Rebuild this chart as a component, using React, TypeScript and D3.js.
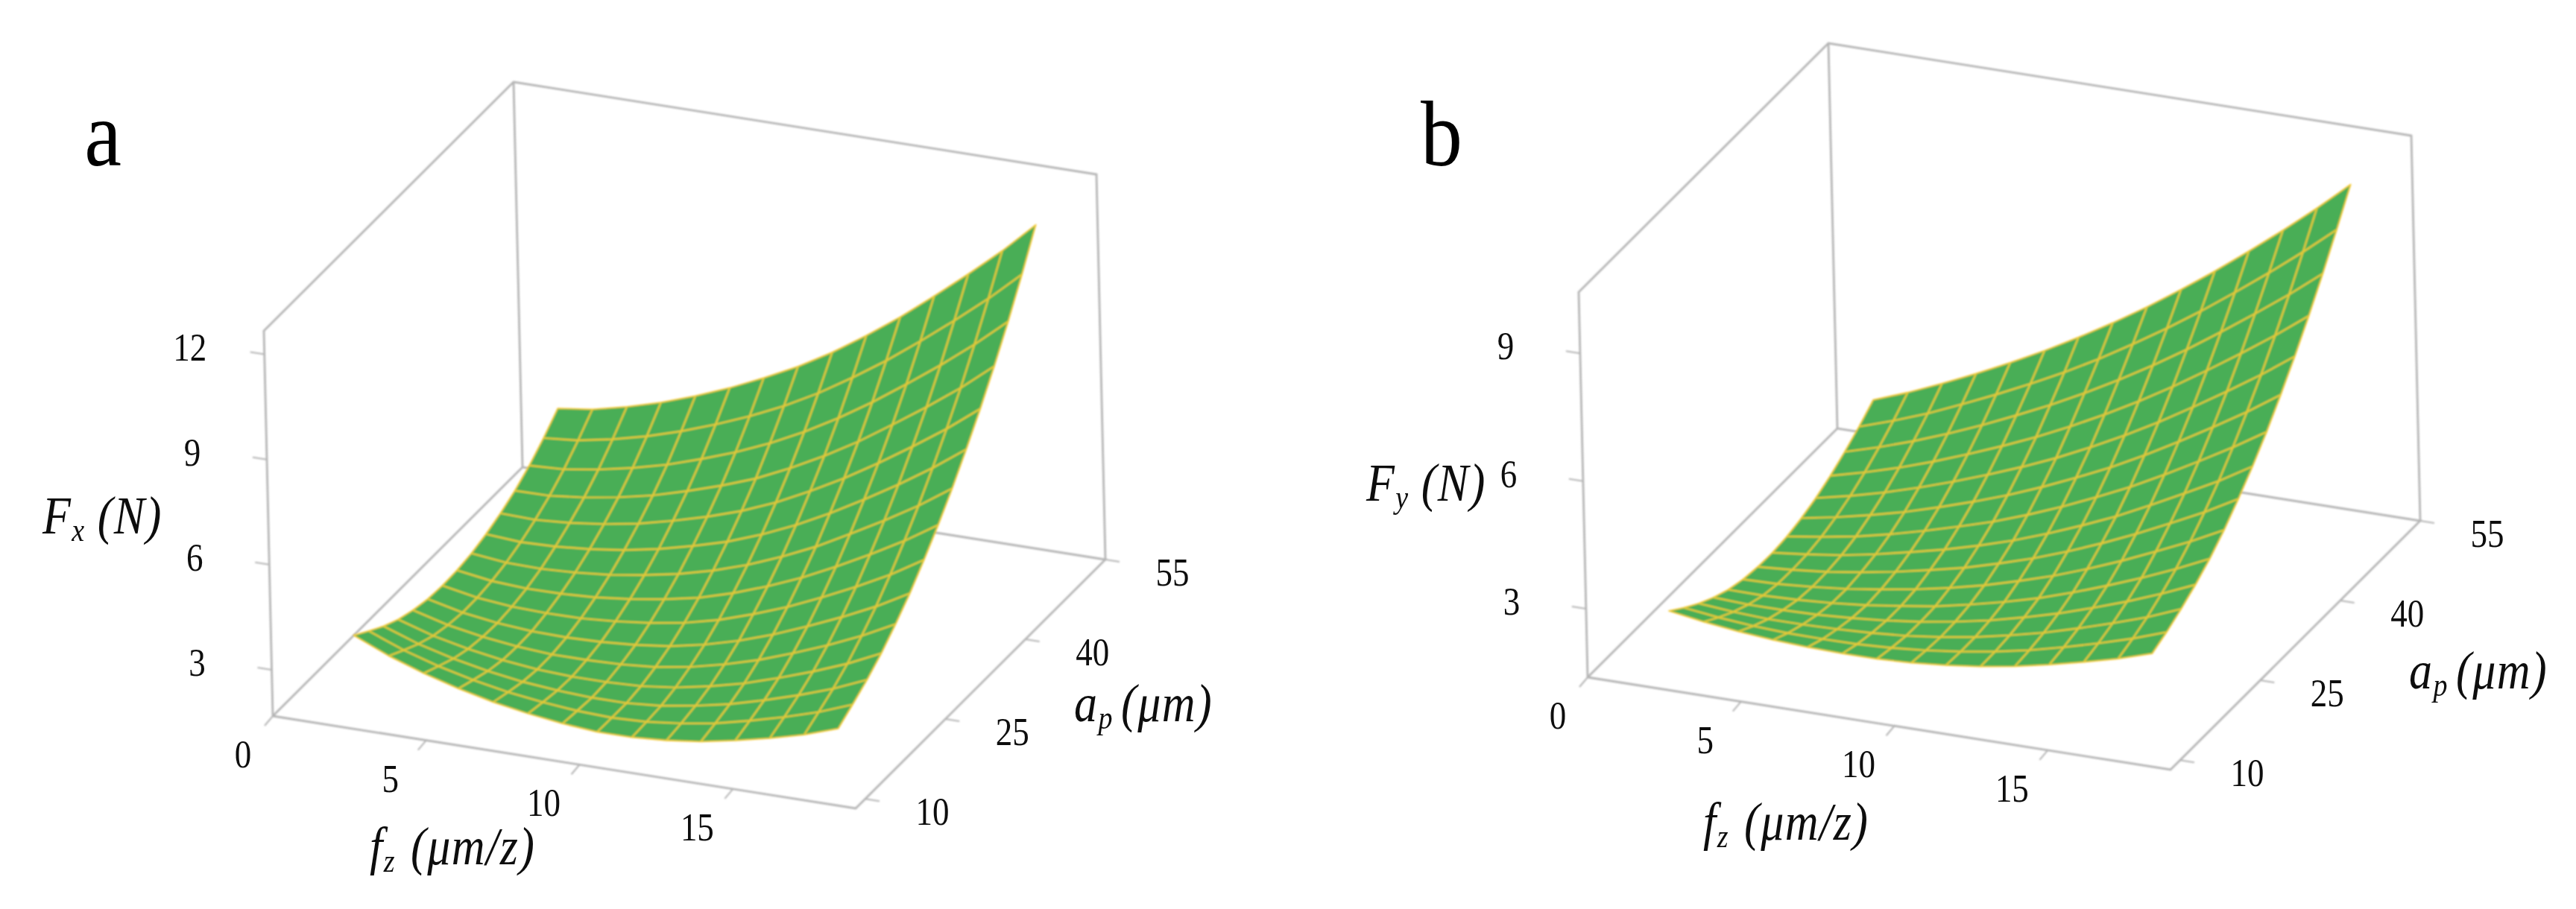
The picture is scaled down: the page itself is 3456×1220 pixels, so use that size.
import React from "react";
import * as d3 from "d3";

const width = 3456,
  height = 1220;

// floor and height directions of the box, in pixels
const ex: [number, number] = [782, 124];
const ey: [number, number] = [335, -334];
const ez: [number, number] = [-12, -517];

const fzTicks = [0, 5, 10, 15];
const apTicks = [10, 25, 40, 55];
const fxTicks = [3, 6, 9, 12];
const fyTicks = [3, 6, 9];

const fzDomain = [0, 19];
const apDomain = [8.2, 55];
const fxDomain = [1.68, 12.67];
const fyDomain = [1.39, 10.44];

// mesh positions of the surface
const fzGrid = [2.39, 3.52, 4.65, 5.77, 6.9, 8.03, 9.15, 10.28, 11.41, 12.54, 13.66, 14.79, 15.92, 17.05, 18.17];
const apGrid = [10, 12.74, 15.48, 18.21, 20.95, 23.69, 26.43, 29.17, 31.9, 34.64, 37.38, 40.12, 42.86, 45.59, 48.33];

// Fx, one row per ap, one column per fz
const fxValues = [
  [4.04, 3.61, 3.27, 2.99, 2.76, 2.59, 2.46, 2.38, 2.38, 2.45, 2.57, 2.76, 2.98, 3.24, 3.57],
  [3.75, 3.36, 3.06, 2.82, 2.63, 2.5, 2.41, 2.37, 2.41, 2.52, 2.68, 2.91, 3.17, 3.47, 3.84],
  [3.47, 3.12, 2.86, 2.66, 2.51, 2.42, 2.37, 2.37, 2.45, 2.61, 2.81, 3.08, 3.38, 3.72, 4.13],
  [3.25, 2.94, 2.72, 2.56, 2.45, 2.4, 2.4, 2.44, 2.56, 2.75, 2.99, 3.3, 3.64, 4.02, 4.47],
  [3.1, 2.83, 2.65, 2.53, 2.46, 2.46, 2.49, 2.57, 2.73, 2.96, 3.24, 3.59, 3.97, 4.4, 4.89],
  [3.0, 2.77, 2.63, 2.55, 2.53, 2.56, 2.63, 2.75, 2.95, 3.22, 3.55, 3.94, 4.36, 4.82, 5.35],
  [2.97, 2.78, 2.68, 2.65, 2.66, 2.73, 2.84, 3.0, 3.24, 3.56, 3.92, 4.35, 4.81, 5.31, 5.89],
  [2.99, 2.84, 2.78, 2.79, 2.84, 2.95, 3.1, 3.3, 3.59, 3.94, 4.34, 4.81, 5.32, 5.86, 6.47],
  [3.06, 2.95, 2.93, 2.98, 3.07, 3.22, 3.41, 3.66, 3.98, 4.37, 4.81, 5.33, 5.87, 6.45, 7.1],
  [3.19, 3.12, 3.15, 3.23, 3.36, 3.55, 3.79, 4.07, 4.43, 4.86, 5.35, 5.9, 6.48, 7.11, 7.8],
  [3.37, 3.34, 3.41, 3.53, 3.7, 3.94, 4.21, 4.53, 4.93, 5.41, 5.93, 6.52, 7.15, 7.81, 8.54],
  [3.6, 3.61, 3.72, 3.88, 4.09, 4.37, 4.68, 5.04, 5.49, 6.0, 6.56, 7.2, 7.86, 8.56, 9.34],
  [3.9, 3.95, 4.1, 4.3, 4.55, 4.87, 5.22, 5.63, 6.11, 6.66, 7.27, 7.94, 8.64, 9.39, 10.2],
  [4.27, 4.36, 4.55, 4.79, 5.09, 5.44, 5.83, 6.28, 6.8, 7.4, 8.04, 8.75, 9.5, 10.28, 11.13],
  [4.7, 4.83, 5.06, 5.34, 5.68, 6.07, 6.51, 6.99, 7.55, 8.19, 8.87, 9.63, 10.41, 11.23, 12.13],
];

// Fy, same layout
const fyValues = [
  [3.0, 2.87, 2.77, 2.7, 2.66, 2.64, 2.64, 2.68, 2.75, 2.85, 2.98, 3.15, 3.34, 3.55, 3.8],
  [2.73, 2.63, 2.56, 2.52, 2.51, 2.52, 2.56, 2.63, 2.73, 2.86, 3.02, 3.22, 3.44, 3.68, 3.96],
  [2.49, 2.42, 2.38, 2.38, 2.4, 2.44, 2.5, 2.6, 2.73, 2.9, 3.09, 3.32, 3.57, 3.84, 4.16],
  [2.29, 2.25, 2.25, 2.27, 2.32, 2.39, 2.49, 2.62, 2.78, 2.98, 3.2, 3.46, 3.74, 4.05, 4.39],
  [2.13, 2.12, 2.15, 2.2, 2.28, 2.39, 2.51, 2.68, 2.87, 3.09, 3.35, 3.64, 3.95, 4.29, 4.66],
  [2.03, 2.05, 2.11, 2.19, 2.31, 2.44, 2.6, 2.79, 3.02, 3.27, 3.56, 3.88, 4.23, 4.59, 4.99],
  [1.98, 2.04, 2.12, 2.24, 2.38, 2.55, 2.73, 2.96, 3.21, 3.5, 3.82, 4.17, 4.55, 4.94, 5.38],
  [1.97, 2.06, 2.17, 2.32, 2.5, 2.69, 2.91, 3.16, 3.45, 3.77, 4.11, 4.5, 4.91, 5.33, 5.8],
  [2.01, 2.13, 2.27, 2.45, 2.66, 2.89, 3.13, 3.42, 3.74, 4.09, 4.46, 4.88, 5.32, 5.78, 6.27],
  [2.1, 2.25, 2.43, 2.63, 2.87, 3.13, 3.41, 3.73, 4.08, 4.45, 4.86, 5.31, 5.78, 6.27, 6.8],
  [2.23, 2.41, 2.62, 2.86, 3.13, 3.42, 3.73, 4.07, 4.45, 4.86, 5.3, 5.78, 6.28, 6.8, 7.36],
  [2.41, 2.62, 2.86, 3.13, 3.43, 3.75, 4.09, 4.47, 4.88, 5.32, 5.79, 6.3, 6.83, 7.38, 7.97],
  [2.63, 2.87, 3.14, 3.44, 3.77, 4.13, 4.5, 4.91, 5.35, 5.82, 6.32, 6.86, 7.42, 8.0, 8.62],
  [2.88, 3.15, 3.45, 3.79, 4.15, 4.53, 4.93, 5.37, 5.85, 6.35, 6.88, 7.45, 8.04, 8.66, 9.31],
  [3.17, 3.47, 3.81, 4.17, 4.56, 4.97, 5.41, 5.88, 6.38, 6.92, 7.48, 8.08, 8.7, 9.35, 10.03],
];

const boxColor = "#b5b5b5";
const meshColor = "#e6ca35";
const edgeColor = "#f4c832";
const surfaceColor = "#4aae57";
const serif = "'Liberation Serif', 'Times New Roman', serif";

const fzScale = d3.scaleLinear().domain(fzDomain).range([0, 1]);
const apScale = d3.scaleLinear().domain(apDomain).range([0, 1]);
const line = d3.line();

// the reference's lettering is stretched upward
const tall = (x: number, y: number, s = 1.16) => `translate(${x},${y}) scale(1,${s})`;

function Panel({ origin, letter, letterX, values, zDomain, zTicks, zName, nameAt, fzLabel, apLabel }: any) {
  const zScale = d3.scaleLinear().domain(zDomain).range([0, 1]);

  // unit cube to pixels
  const unit = (u: number, v: number, h: number): [number, number] => [
    origin[0] + u * ex[0] + v * ey[0] + h * ez[0],
    origin[1] + u * ex[1] + v * ey[1] + h * ez[1],
  ];
  const point = (i: number, j: number) => unit(fzScale(fzGrid[i]), apScale(apGrid[j]), zScale(values[j][i]));

  const rows = apGrid.map((_, j) => fzGrid.map((_, i) => point(i, j)));
  const cols = fzGrid.map((_, i) => apGrid.map((_, j) => point(i, j)));
  const outline = [...rows[0], ...cols[14].slice(1), ...[...rows[14]].reverse().slice(1), ...[...cols[0]].reverse().slice(1)];

  const box = [
    [unit(0, 0, 0), unit(1, 0, 0), unit(1, 1, 0), unit(0, 1, 0), unit(0, 0, 0)],
    [unit(0, 0, 0), unit(0, 0, 1), unit(0, 1, 1), unit(1, 1, 1), unit(1, 1, 0)],
    [unit(0, 1, 0), unit(0, 1, 1)],
  ];

  const tickStyle = { fontFamily: serif, fontSize: 45, textAnchor: "middle" as const, fill: "#111" };
  const labelStyle = { fontFamily: serif, fontSize: 62, fontStyle: "italic", fill: "#111", letterSpacing: 1.5 };
  const sub = { fontSize: 38 };

  return (
    <g>
      <g fill="none" stroke={boxColor} strokeWidth={2.8} filter="url(#soft)">
        {box.map((d, k) => (
          <path key={k} d={line(d as any) as string} />
        ))}
        {fzTicks.map((t) => {
          const a = unit(fzScale(t), 0, 0);
          return <line key={t} x1={a[0]} y1={a[1]} x2={a[0] - 11} y2={a[1] + 13} strokeWidth={2} />;
        })}
        {apTicks.map((t) => {
          const a = unit(1, apScale(t), 0);
          return <line key={t} x1={a[0]} y1={a[1]} x2={a[0] + 19} y2={a[1] + 3} strokeWidth={2} />;
        })}
        {zTicks.map((t: number) => {
          const a = unit(0, 0, zScale(t));
          return <line key={t} x1={a[0]} y1={a[1]} x2={a[0] - 19} y2={a[1] - 3} strokeWidth={2} />;
        })}
      </g>

      <g filter="url(#soft)">
        <path d={line(outline as any) + "Z"} fill={surfaceColor} stroke={edgeColor} strokeWidth={1.8} strokeLinejoin="round" />
        <g fill="none" stroke={meshColor} strokeWidth={2.4}>
          {rows.slice(1, 14).map((d, k) => (
            <path key={k} d={line(d as any) as string} />
          ))}
          {cols.slice(1, 14).map((d, k) => (
            <path key={k} d={line(d as any) as string} />
          ))}
        </g>
      </g>

      <g filter="url(#softText)">
        {fzTicks.map((t) => {
          const a = unit(fzScale(t), 0, 0);
          return (
            <text key={t} transform={tall(a[0] - (t === 0 ? 40 : 48), a[1] + 69)} {...tickStyle}>
              {t}
            </text>
          );
        })}
        {apTicks.map((t) => {
          const a = unit(1, apScale(t), 0);
          return (
            <text key={t} transform={tall(a[0] + 90, a[1] + 35)} {...tickStyle}>
              {t}
            </text>
          );
        })}
        {zTicks.map((t: number) => {
          const a = unit(0, 0, zScale(t));
          return (
            <text key={t} transform={tall(a[0] - 100, a[1] + 8)} {...tickStyle}>
              {t}
            </text>
          );
        })}

        <text transform={tall(nameAt[0], nameAt[1])} {...labelStyle}>
          F<tspan {...sub} dy={9}>{zName}</tspan>
          <tspan dy={-9} dx={16}>(N)</tspan>
        </text>
        <text transform={tall(fzLabel[0], fzLabel[1])} {...labelStyle}>
          f<tspan {...sub} dy={9}>z</tspan>
          <tspan dy={-9} dx={20}>(μm/z)</tspan>
        </text>
        <text transform={tall(apLabel[0], apLabel[1])} {...labelStyle}>
          a<tspan {...sub} dy={9}>p</tspan>
          <tspan dy={-9} dx={10}>(μm)</tspan>
        </text>
        <text transform={tall(letterX, 222, 1.12)} fontFamily={serif} fontSize={112} textAnchor="middle" fill="#000">
          {letter}
        </text>
      </g>
    </g>
  );
}

export default function App() {
  return (
    <svg width={width} height={height} style={{ position: "absolute", left: 0, top: 0, background: "#fff" }}>
      <defs>
        <filter id="soft" x="-5%" y="-5%" width="110%" height="110%">
          <feGaussianBlur stdDeviation="0.8" />
        </filter>
        <filter id="softText" x="-5%" y="-5%" width="110%" height="110%">
          <feGaussianBlur stdDeviation="0.5" />
        </filter>
      </defs>
      <Panel
        origin={[366, 961]}
        letter="a"
        letterX={138}
        values={fxValues}
        zDomain={fxDomain}
        zTicks={fxTicks}
        zName="x"
        nameAt={[57, 716]}
        fzLabel={[496, 1160]}
        apLabel={[1441, 968]}
      />
      <Panel
        origin={[2130, 909]}
        letter="b"
        letterX={1934}
        values={fyValues}
        zDomain={fyDomain}
        zTicks={fyTicks}
        zName="y"
        nameAt={[1833, 672]}
        fzLabel={[2285, 1127]}
        apLabel={[3232, 924]}
      />
    </svg>
  );
}
